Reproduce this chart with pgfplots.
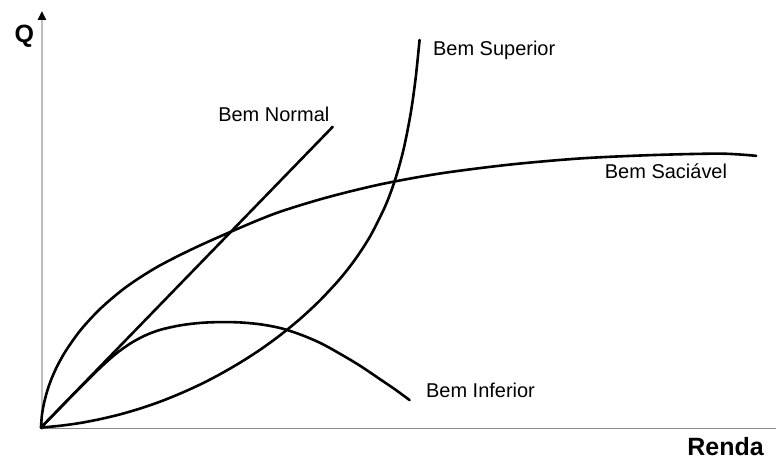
\documentclass[border=0pt]{standalone}
\usepackage{pgfplots}
\pgfplotsset{compat=1.18}
\usepackage{fontspec}
\setmainfont{Liberation Sans}
\usetikzlibrary{arrows.meta}
\definecolor{axisy}{HTML}{BDBDBD}
\definecolor{axisx}{HTML}{8A8A8A}

\begin{document}
\begin{tikzpicture}
\begin{axis}[
  width=777pt, height=463pt, scale only axis,
  xmin=0, xmax=777, ymin=0, ymax=463,
  hide axis, clip=false,
]
\pgfplotsset{curve/.style={black, no markers, line width=2.6pt, line join=round, line cap=round, smooth, tension=0.5}}
% frame for the bounding box
\path (rel axis cs:0,0) rectangle (rel axis cs:1,1);
% axes
\addplot[axisx, no markers, line width=1.6pt] coordinates {(41,34) (777,34)};
\addplot[axisy, no markers, line width=2.6pt, -{Triangle[length=9pt,width=8pt,fill=black,color=black]}] coordinates {(42,33) (42,452)};
% Bem Normal
\addplot[curve] coordinates {(41,35) (333,336)};
% Bem Saciavel
\addplot[curve] coordinates {
  (41,35) (42,47.8) (44,59.1) (47,70.7) (51,82.4) (57,96.0) (66,112.0) (81,133.0)
  (101,154.5) (126,175.5) (156,195.0) (191,213.0) (231,231.0) (276,249.5) (326,265.0)
  (381,278.5) (441,289.4) (511,298.3) (581,304.4) (651,307.7) (721,309.2) (757,307)};
% Bem Superior
\addplot[curve] coordinates {
  (41,35) (61,36.9) (81,39.7) (101,43.6) (121,48.4) (141,54.3) (161,61.2) (181,69.3)
  (201,78.4) (221,88.8) (241,100.4) (261,113.3) (281,127.9) (301,144.3) (321,163)
  (341,184.7) (356,204) (371,227.3) (386,257.5) (396,284.6) (404,313.6) (411,348.9)
  (416,384.2) (420,423)};
% Bem Inferior
\addplot[curve] coordinates {
  (41,35) (61,55.5) (81,75.8) (101,95.5) (116,108.8) (131,119.5) (146,127.5) (161,133)
  (181,137.4) (201,139.8) (221,140.6) (241,140.2) (261,138.3) (281,134.5) (301,128)
  (321,119.5) (341,108.5) (361,96.5) (381,83) (396,72.8) (410,62.5)};
% labels
\node[anchor=base west, font=\fontsize{20}{24}\selectfont] at (axis cs:430,407) {Bem Superior};
\node[anchor=base west, font=\fontsize{20}{24}\selectfont] at (axis cs:215,341) {Bem Normal};
\node[anchor=base west, font=\fontsize{20}{24}\selectfont] at (axis cs:602,284) {Bem Saciável};
\node[anchor=base west, font=\fontsize{20}{24}\selectfont] at (axis cs:423,65) {Bem Inferior};
\node[anchor=base west, font=\fontsize{25}{30}\selectfont\bfseries] at (axis cs:11,420) {Q};
\node[anchor=base east, font=\fontsize{25}{30}\selectfont\bfseries] at (axis cs:768,7) {Renda};
\end{axis}
\end{tikzpicture}
\end{document}
